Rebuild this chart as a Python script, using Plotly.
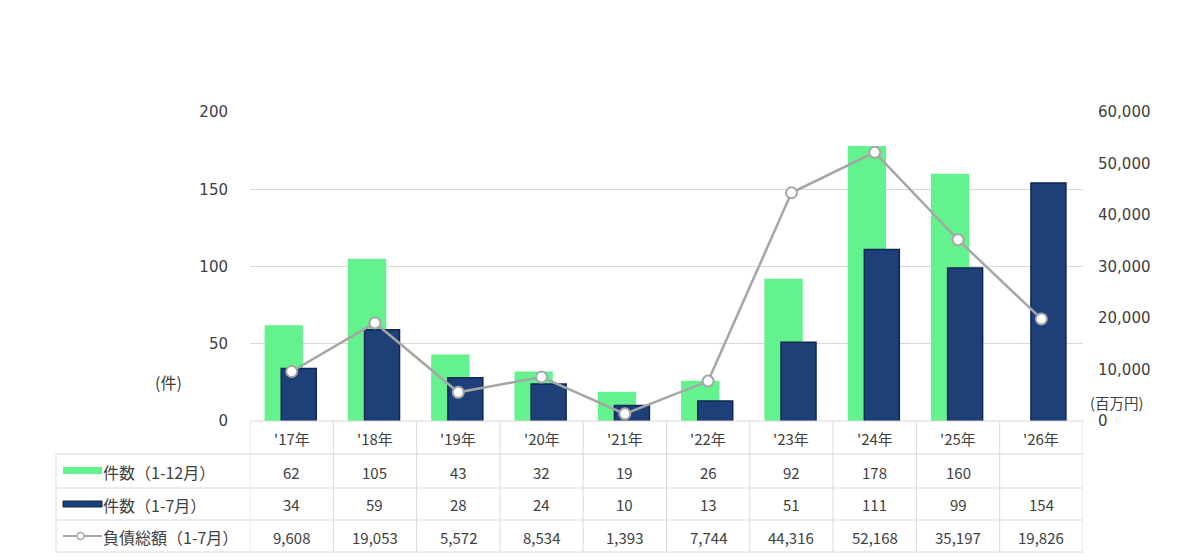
import plotly.graph_objects as go

years = ["'17年", "'18年", "'19年", "'20年", "'21年", "'22年", "'23年", "'24年", "'25年", "'26年"]
count_full = [62, 105, 43, 32, 19, 26, 92, 178, 160, None]
count_jan_jul = [34, 59, 28, 24, 10, 13, 51, 111, 99, 154]
debt_jan_jul = [9608, 19053, 5572, 8534, 1393, 7744, 44316, 52168, 35197, 19826]

row_labels = ["件数（1-12月）", "件数（1-7月）", "負債総額（1-7月）"]

GREEN = "#63F28E"
NAVY = "#1E4079"
NAVY_EDGE = "#0C2656"
GRAY = "#A6A6A6"
GRID = "#D9D9D9"
TXT = "#404040"
FONT = "Noto Sans CJK JP"
NUMFONT = "DejaVu Sans"

W, H = 1181, 557
PAGE = 8                       # body margin of the html page
L, R, T, B = 250, 1083, 112, 421   # plot area, screen pixels


def px(xp):
    return (xp - L) / (R - L)


def py(yp):
    return (B - yp) / (B - T)


fig = go.Figure()

fig.add_trace(go.Bar(
    x=list(range(len(years))), y=count_full, name=row_labels[0],
    marker={"color": GREEN, "line": {"width": 0}},
    offset=-0.325, width=0.46, hoverinfo="skip",
))
fig.add_trace(go.Bar(
    x=list(range(len(years))), y=count_jan_jul, name=row_labels[1],
    marker={"color": NAVY, "line": {"color": NAVY_EDGE, "width": 1.5}},
    offset=-0.125, width=0.42, hoverinfo="skip",
))
fig.add_trace(go.Scatter(
    x=list(range(len(years))), y=debt_jan_jul, name=row_labels[2], yaxis="y2",
    mode="lines+markers",
    line={"color": GRAY, "width": 2.5},
    marker={"size": 11, "color": "white", "line": {"color": GRAY, "width": 2}},
    hoverinfo="skip",
))

shapes = []
annotations = []


def text(x, y, s, xref="paper", size=14, xanchor="center", family=FONT):
    annotations.append(dict(x=x, y=y, xref=xref, yref="paper", text=s,
                            xanchor=xanchor, yanchor="middle", showarrow=False,
                            font={"size": size, "color": TXT, "family": family}))


# table grid
row_edges = [421, 454, 488, 520, 552]
label_left = 56
n = len(years)
for i, yp in enumerate(row_edges):
    x0 = L if i == 0 else label_left
    shapes.append(dict(type="line", xref="paper", yref="paper",
                       x0=px(x0), x1=1, y0=py(yp), y1=py(yp),
                       line={"color": GRID, "width": 1}))
shapes.append(dict(type="line", xref="paper", yref="paper",
                   x0=px(label_left), x1=px(label_left),
                   y0=py(row_edges[1]), y1=py(row_edges[-1]),
                   line={"color": GRID, "width": 1}))
for k in range(n + 1):
    shapes.append(dict(type="line", xref="x", yref="paper",
                       x0=k - 0.5, x1=k - 0.5,
                       y0=py(row_edges[0]), y1=py(row_edges[-1]),
                       line={"color": GRID, "width": 1}))

# header + values
rows = [count_full, count_jan_jul, debt_jan_jul]
for k, yr in enumerate(years):
    text(k, py((row_edges[0] + row_edges[1]) / 2 + 1), yr, xref="x", size=15)
    for r, vals in enumerate(rows):
        v = vals[k]
        if v is None:
            continue
        text(k, py((row_edges[r + 1] + row_edges[r + 2]) / 2 + 1), f"{v:,}", xref="x", size=15)

# row labels with legend keys
for r, lab in enumerate(row_labels):
    yc = (row_edges[r + 1] + row_edges[r + 2]) / 2
    text(px(101), py(yc + 1), lab, size=16, xanchor="left")
    if r == 0:
        shapes.append(dict(type="rect", xref="paper", yref="paper",
                           x0=px(63), x1=px(102), y0=py(yc - 4), y1=py(yc + 3),
                           fillcolor=GREEN, line={"width": 0}))
    elif r == 1:
        shapes.append(dict(type="rect", xref="paper", yref="paper",
                           x0=px(63), x1=px(102), y0=py(yc - 3), y1=py(yc + 3),
                           fillcolor=NAVY, line={"color": NAVY_EDGE, "width": 1}))
    else:
        shapes.append(dict(type="line", xref="paper", yref="paper",
                           x0=px(63), x1=px(102), y0=py(yc), y1=py(yc),
                           line={"color": GRAY, "width": 2}))
        shapes.append(dict(type="circle", xref="paper", yref="paper",
                           x0=px(77), x1=px(84), y0=py(yc + 3.5), y1=py(yc - 3.5),
                           fillcolor="white", line={"color": GRAY, "width": 1.5}))

# axis unit labels
text(px(168), py(382), "(件)", size=16)
text(px(1116), py(402), "(百万円)", size=14.5)

fig.update_layout(
    width=W, height=H,
    margin={"l": L - PAGE, "r": W - (R - PAGE), "t": T - PAGE, "b": H - (B - PAGE)},
    paper_bgcolor="white", plot_bgcolor="white",
    barmode="overlay", showlegend=False,
    font={"family": FONT, "color": TXT, "size": 14},
    xaxis={"range": [-0.5, n - 0.5], "showticklabels": False, "showgrid": False,
           "zeroline": False, "showline": False, "fixedrange": True},
    yaxis={"range": [0, 200], "dtick": 50, "showgrid": True, "gridcolor": GRID,
           "gridwidth": 1, "zeroline": False, "showline": False,
           "ticklabelstandoff": 21, "tickfont": {"size": 15, "color": TXT, "family": NUMFONT}},
    yaxis2={"range": [0, 60000], "dtick": 10000, "overlaying": "y", "side": "right",
            "showgrid": False, "zeroline": False, "showline": False,
            "tickformat": ",d", "ticklabelstandoff": 14,
            "tickfont": {"size": 15, "color": TXT, "family": NUMFONT}},
    shapes=shapes, annotations=annotations,
)

fig.write_html("out.html")
